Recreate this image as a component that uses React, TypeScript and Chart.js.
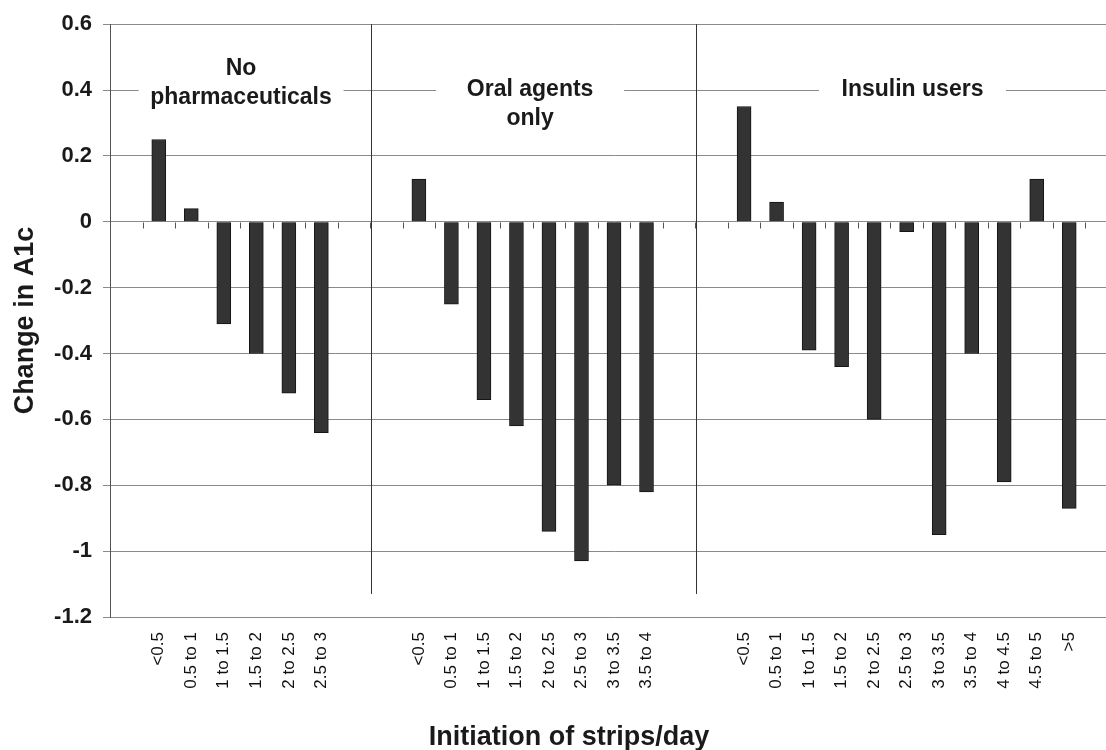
import React, { useEffect, useRef } from "react";
import { Chart, registerables } from "chart.js";

Chart.register(...registerables);

// ---- data ----
const noPharmaLabels = ["<0.5", "0.5 to 1", "1 to 1.5", "1.5 to 2", "2 to 2.5", "2.5 to 3"];
const noPharmaValues = [0.25, 0.04, -0.31, -0.4, -0.52, -0.64];

const oralLabels = ["<0.5", "0.5 to 1", "1 to 1.5", "1.5 to 2", "2 to 2.5", "2.5 to 3", "3 to 3.5", "3.5 to 4"];
const oralValues = [0.13, -0.25, -0.54, -0.62, -0.94, -1.03, -0.8, -0.82];

const insulinLabels = ["<0.5", "0.5 to 1", "1 to 1.5", "1.5 to 2", "2 to 2.5", "2.5 to 3", "3 to 3.5", "3.5 to 4", "4 to 4.5", "4.5 to 5", ">5"];
const insulinValues = [0.35, 0.06, -0.39, -0.44, -0.6, -0.03, -0.95, -0.4, -0.79, 0.13, -0.87];

const groupNames = [["No", "pharmaceuticals"], ["Oral agents", "only"], ["Insulin users"]];
const yTitle = "Change in A1c";
const xTitle = "Initiation of strips/day";
const yMin = -1.2;
const yMax = 0.6;
const yStep = 0.2;

// categories with empty slots between groups
const labels: string[] = ["", ...noPharmaLabels, "", "", ...oralLabels, "", "", ...insulinLabels, ""];
const values: (number | null)[] = [null, ...noPharmaValues, null, null, ...oralValues, null, null, ...insulinValues, null];
const separatorSlots = [2 + noPharmaLabels.length, 4 + noPharmaLabels.length + oralLabels.length];

const FONT = '"Liberation Sans", Arial, Helvetica, sans-serif';

const overlay = {
  id: "overlay",
  afterDatasetsDraw(chart: any) {
    const { ctx, chartArea, scales } = chart;
    const ys = scales.y;
    const slot = (chartArea.right - chartArea.left) / labels.length;
    const y0 = Math.round(ys.getPixelForValue(0)) + 0.5;
    ctx.save();
    // tick marks on the zero line
    ctx.strokeStyle = "#555";
    ctx.lineWidth = 1;
    for (let k = 1; k <= labels.length; k++) {
      const px = Math.round(chartArea.left + k * slot) + 0.5;
      ctx.beginPath();
      ctx.moveTo(px, y0);
      ctx.lineTo(px, y0 + 6);
      ctx.stroke();
    }
    // group separators
    ctx.strokeStyle = "#333";
    separatorSlots.forEach((k) => {
      const px = Math.round(chartArea.left + k * slot) + 1.5;
      ctx.beginPath();
      ctx.moveTo(px, chartArea.top);
      ctx.lineTo(px, ys.getPixelForValue(-1.13));
      ctx.stroke();
    });
    // group headers
    const centers = [4.03, 12.92, 24.68];
    const gapW = [205, 188, 187];
    const baselines = [[75, 104], [96, 125], [96]];
    ctx.font = `bold 23px ${FONT}`;
    ctx.textAlign = "center";
    ctx.textBaseline = "alphabetic";
    groupNames.forEach((lines, gi) => {
      const cx = chartArea.left + centers[gi] * slot;
      const b = baselines[gi];
      ctx.fillStyle = "#ffffff";
      ctx.fillRect(cx - gapW[gi] / 2, b[0] - 24, gapW[gi], b[b.length - 1] - b[0] + 32);
      ctx.fillStyle = "#1a1a1a";
      lines.forEach((t, li) => ctx.fillText(t, cx, b[li]));
    });
    // axis titles
    ctx.font = `bold 27px ${FONT}`;
    ctx.fillStyle = "#1a1a1a";
    ctx.fillText(xTitle, 569, 745);
    ctx.translate(33, (chartArea.top + chartArea.bottom) / 2);
    ctx.rotate(-Math.PI / 2);
    ctx.fillText(yTitle, 0, 0);
    ctx.restore();
  },
};

export default function App() {
  const ref = useRef<HTMLCanvasElement | null>(null);
  useEffect(() => {
    if (!ref.current) return;
    const chart = new Chart(ref.current, {
      type: "bar",
      data: {
        labels,
        datasets: [
          {
            data: values,
            backgroundColor: "#333333",
            borderColor: "#151515",
            borderWidth: 1,
            barThickness: 14,
          },
        ],
      },
      options: {
        responsive: false,
        animation: false,
        layout: { padding: { top: 24, left: 0, right: 0, bottom: 0 } },
        plugins: { legend: { display: false }, tooltip: { enabled: false } },
        scales: {
          x: {
            type: "category",
            offset: true,
            grid: { display: false, drawTicks: false },
            border: { display: false },
            ticks: {
              autoSkip: false,
              minRotation: 90,
              maxRotation: 90,
              padding: 15,
              color: "#111",
              font: { family: FONT, size: 17 },
            },
            afterFit(scale: any) {
              scale.height = 133;
              scale.paddingLeft = 0;
              scale.paddingRight = 0;
            },
          },
          y: {
            min: yMin,
            max: yMax,
            grid: { color: "#8a8a8a", tickLength: 7, lineWidth: 1 },
            border: { display: true, color: "#555" },
            ticks: {
              stepSize: yStep,
              padding: 11,
              color: "#1a1a1a",
              font: { family: FONT, size: 22, weight: "bold" },
              callback: (v: any) => String(Math.round(Number(v) * 10) / 10),
            },
            afterFit(scale: any) {
              scale.width = 110;
            },
          },
        },
      },
      plugins: [overlay],
    });
    return () => chart.destroy();
  }, []);
  return (
    <div style={{ position: "absolute", left: 0, top: 0, width: 1106, height: 750, overflow: "hidden", background: "#fff" }}>
      <canvas ref={ref} width={1118} height={750} style={{ display: "block" }} />
    </div>
  );
}
